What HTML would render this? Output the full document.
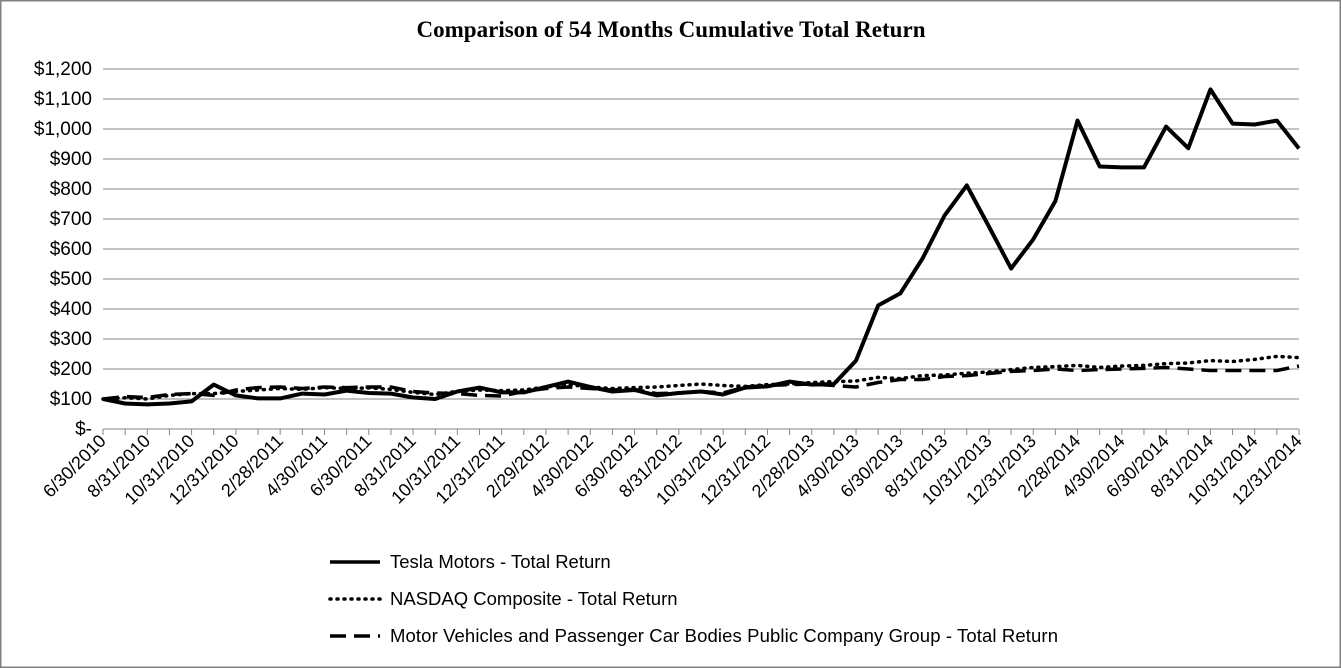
<!DOCTYPE html>
<html><head><meta charset="utf-8"><style>
html,body{margin:0;padding:0;background:#fff;}
svg{display:block;}
</style></head><body>
<svg id="s" width="1341" height="668" xmlns="http://www.w3.org/2000/svg" font-family="Liberation Sans, sans-serif">
<rect x="0.5" y="0.5" width="1340" height="667" fill="#fff" stroke="#808080" stroke-width="2"/>
<text x="671" y="37" text-anchor="middle" font-family="Liberation Serif, serif" font-weight="bold" font-size="23" textLength="509">Comparison of 54 Months Cumulative Total Return</text>
<g id="grid"></g>
<g id="series"></g>
<g font-size="18.5">
<line x1="330" y1="562" x2="380" y2="562" stroke="#000" stroke-width="3.5"/>
<text x="390" y="568">Tesla Motors - Total Return</text>
<line x1="330" y1="599" x2="380" y2="599" stroke="#000" stroke-width="3.5" stroke-dasharray="1,6" stroke-linecap="round"/>
<text x="390" y="605">NASDAQ Composite - Total Return</text>
<line x1="330" y1="636" x2="380" y2="636" stroke="#000" stroke-width="3.5" stroke-dasharray="16,8"/>
<text x="390" y="642" textLength="668">Motor Vehicles and Passenger Car Bodies Public Company Group - Total Return</text>
</g>
</svg>
<script>
var NS="http://www.w3.org/2000/svg";
function el(p,t,a,txt){var e=document.createElementNS(NS,t);for(var k in a)e.setAttribute(k,a[k]);if(txt!=null)e.textContent=txt;p.appendChild(e);return e;}
var g=document.getElementById('grid'),sg=document.getElementById('series');
var x0=103,x1=1299,yb=429,dx=(x1-x0)/54;
function Y(v){return yb-v*0.3;}
var yl=["$-","$100","$200","$300","$400","$500","$600","$700","$800","$900","$1,000","$1,100","$1,200"];
for(var i=0;i<=12;i++){var y=yb-i*30;
 if(i>0)el(g,'line',{x1:x0,y1:y,x2:x1,y2:y,stroke:'#868686','stroke-width':1});
 el(g,'text',{x:92,y:y+6,'text-anchor':'end','font-size':19},yl[i]);}
el(g,'line',{x1:x0,y1:yb,x2:x1,y2:yb,stroke:'#868686','stroke-width':1});
var months=[];for(var i=0;i<=54;i++){var m=(5+i)%12,yr=2010+Math.floor((5+i)/12);var d=[31,yr%4==0?29:28,31,30,31,30,31,31,30,31,30,31][m];months.push((m+1)+"/"+d+"/"+yr);}
for(var i=0;i<=54;i++){var x=x0+i*dx;el(g,'line',{x1:x,y1:yb,x2:x,y2:yb+6,stroke:'#868686','stroke-width':1});
 if(i%2==0){el(g,'text',{x:x+4,y:yb+13,'text-anchor':'end','font-size':18,transform:'rotate(-45 '+(x+4)+' '+(yb+13)+')'},months[i]);}}
var tesla=[100,85,82,85,92,148,112,102,102,118,115,128,120,118,105,100,125,138,122,122,140,158,140,125,130,112,120,125,115,138,142,158,148,150,228,412,452,568,712,812,675,535,632,760,1028,875,872,872,1008,936,1132,1018,1015,1028,935];
var nas=[100,104,100,112,118,118,125,130,135,132,138,135,137,132,122,115,126,130,128,130,140,148,140,135,138,140,145,150,145,142,148,150,155,158,160,172,168,178,180,186,190,198,205,208,212,205,210,212,218,220,228,225,232,242,238];
var mot=[100,108,105,115,118,112,130,138,140,135,140,138,140,140,125,120,118,112,110,125,135,140,135,130,132,118,120,125,120,140,145,148,150,145,140,155,165,165,175,178,185,192,195,200,195,198,200,202,205,200,195,195,195,195,210];
function pts(a){return a.map(function(v,i){return (x0+i*dx).toFixed(1)+","+Y(v).toFixed(1);}).join(" ");}
el(sg,'polyline',{points:pts(mot),fill:'none',stroke:'#000','stroke-width':3.5,'stroke-dasharray':'16,8'});
el(sg,'polyline',{points:pts(nas),fill:'none',stroke:'#000','stroke-width':3.5,'stroke-dasharray':'1,6','stroke-linecap':'round'});
el(sg,'polyline',{points:pts(tesla),fill:'none',stroke:'#000','stroke-width':4,'stroke-linejoin':'round'});
</script>
</body></html>
